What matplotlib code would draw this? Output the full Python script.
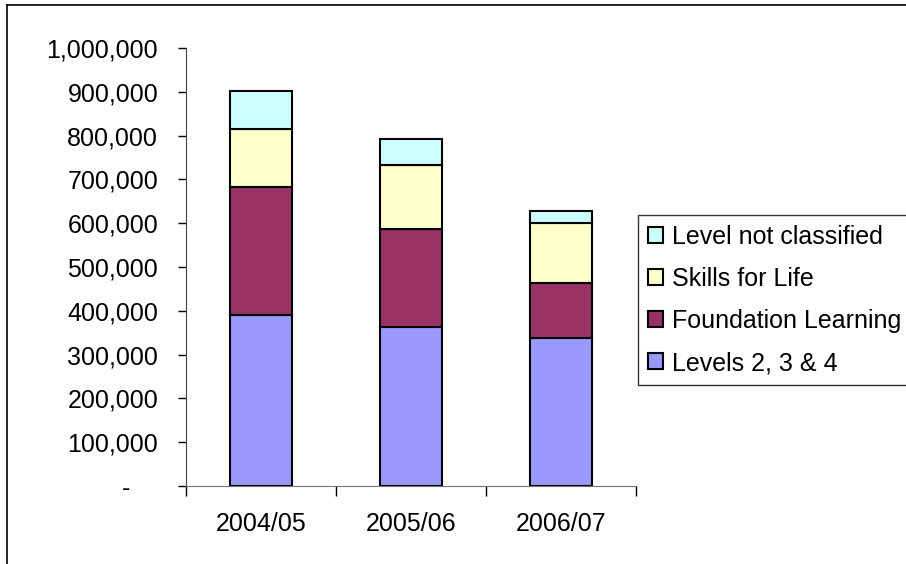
import numpy as np
import matplotlib
matplotlib.use("Agg")
import matplotlib.pyplot as plt
from matplotlib.lines import Line2D
from matplotlib.ticker import FuncFormatter

plt.rcParams['font.family'] = ['Liberation Sans', 'DejaVu Sans']

# values (learners)
years = ['2004/05', '2005/06', '2006/07']
levels_234 = [390000, 362000, 339000]
foundation = [293000, 224000, 124000]
skills_for_life = [133000, 146000, 137000]
not_classified = [86000, 61000, 28000]

series = [
    ('Levels 2, 3 & 4', levels_234, '#9999FF'),
    ('Foundation Learning', foundation, '#993366'),
    ('Skills for Life', skills_for_life, '#FFFFCC'),
    ('Level not classified', not_classified, '#CCFFFF'),
]

fig = plt.figure(figsize=(9.06, 5.64), dpi=100)
ax = fig.add_axes([186/906, 1-486/564, 450/906, 438/564])

x = np.arange(len(years))
bottom = np.zeros(len(years))
handles = []
for name, vals, col in series:
    b = ax.bar(x, vals, width=0.41, bottom=bottom, color=col,
               edgecolor='black', linewidth=1.5, label=name)
    handles.append(b)
    bottom += np.array(vals)

ax.set_xlim(-0.5, 2.5)
ax.set_ylim(0, 1000000)
ax.set_yticks(np.arange(0, 1000001, 100000))
# Excel accounting style: zero shown as a dash, set further left
ax.yaxis.set_major_formatter(FuncFormatter(lambda v, p: '-    ' if v == 0 else f'{int(v):,}'))
ax.tick_params(axis='y', labelsize=18, length=6, width=1, pad=14, direction='out')

ax.set_xticks(x)
ax.set_xticklabels(years)
ax.set_xticks([-0.5, 0.5, 1.5, 2.5], minor=True)
ax.tick_params(axis='x', which='major', length=0, labelsize=18, pad=19)
ax.tick_params(axis='x', which='minor', length=7, width=1, direction='out')

for s in ['top', 'right']:
    ax.spines[s].set_visible(False)
ax.spines['left'].set_color('#444444')
ax.spines['bottom'].set_color('#777777')

leg = fig.legend(handles[::-1], [s[0] for s in series][::-1],
                 loc='upper left', bbox_to_anchor=(638/906, 1-215/564),
                 fontsize=18, frameon=True, fancybox=False, shadow=False,
                 handlelength=0.6, handleheight=0.6, handletextpad=0.35,
                 labelspacing=0.72, borderpad=0.4, borderaxespad=0)
leg.get_frame().set_edgecolor('black')
leg.get_frame().set_linewidth(1.0)

# outer chart border (left and top edges visible)
fig.add_artist(Line2D([7/906, 7/906], [0, 1-5/564], color='black', lw=1.2, transform=fig.transFigure))
fig.add_artist(Line2D([7/906, 1], [1-5/564, 1-5/564], color='black', lw=1.2, transform=fig.transFigure))

fig.savefig('out.png', dpi=100)
